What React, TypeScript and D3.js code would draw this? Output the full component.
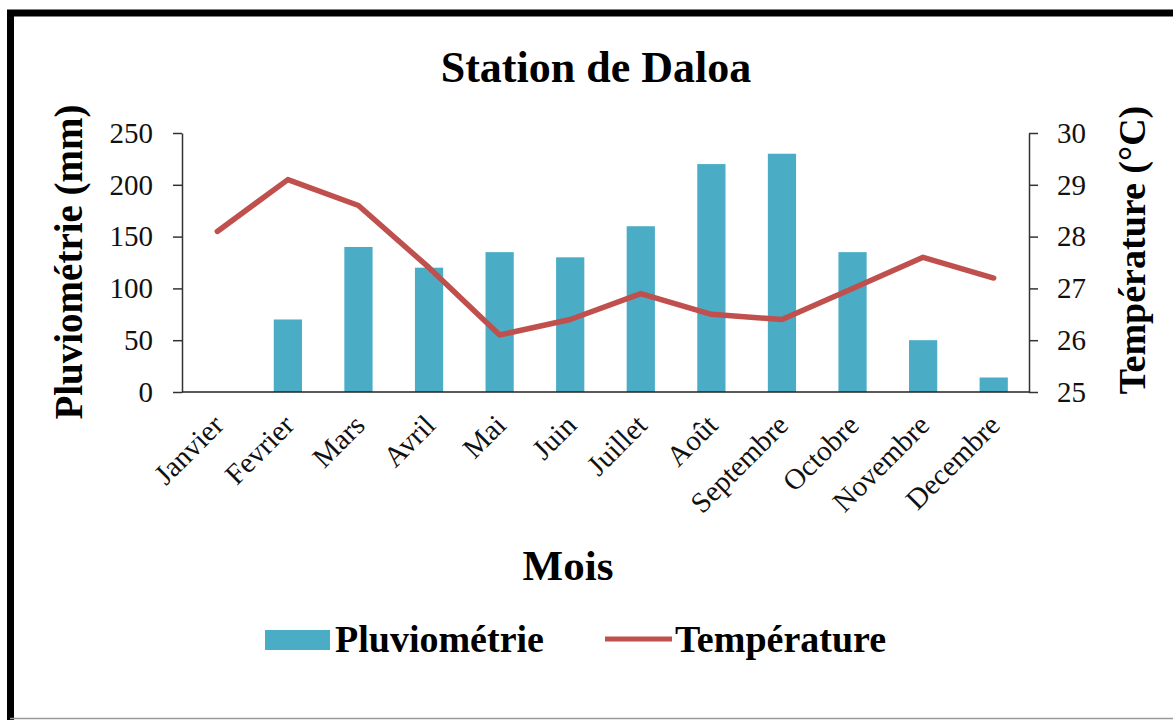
import { useEffect, useRef } from "react";
import * as d3 from "d3";

const months = ["Janvier", "Fevrier", "Mars", "Avril", "Mai", "Juin", "Juillet", "Août", "Septembre", "Octobre", "Novembre", "Decembre"];
const pluvio = [0, 70, 140, 120, 135, 130, 160, 220, 230, 135, 50, 14];
const temperature = [28.1, 29.1, 28.6, 27.4, 26.1, 26.4, 26.9, 26.5, 26.4, 27.0, 27.6, 27.2];
const pluvioTicks = [0, 50, 100, 150, 200, 250];
const tempTicks = [25, 26, 27, 28, 29, 30];

const App = () => {
  const ref = useRef<SVGSVGElement | null>(null);

  useEffect(() => {
    const W = 1173, H = 720;
    const font = "'Liberation Serif', 'Times New Roman', serif";
    const blue = "#4BACC6";
    const red = "#C0504D";
    const left = 182, right = 1029, top = 133, bottom = 392;

    const svg = d3.select(ref.current);
    svg.selectAll("*").remove();
    svg.attr("width", W).attr("height", H).style("font-family", font);

    svg.append("rect").attr("width", W).attr("height", H).attr("fill", "#fff");

    // frame
    svg.append("path")
      .attr("d", `M10.5,${H} V13 H${W}`)
      .attr("fill", "none").attr("stroke", "#000").attr("stroke-width", 7);
    svg.append("line")
      .attr("x1", 10).attr("x2", W).attr("y1", 718.5).attr("y2", 718.5)
      .attr("stroke", "#9a9a9a").attr("stroke-width", 1.5);

    const x = d3.scaleBand<string>().domain(months).range([left, right])
      .paddingInner(0.6).paddingOuter(0.3);
    const yL = d3.scaleLinear().domain([0, 250]).range([bottom, top]);
    const yR = d3.scaleLinear().domain([25, 30]).range([bottom, top]);
    const cx = (m: string) => (x(m) as number) + x.bandwidth() / 2;

    // title
    svg.append("text").attr("x", 596).attr("y", 82)
      .attr("text-anchor", "middle").style("font-size", "44px").style("font-weight", 700)
      .text("Station de Daloa");

    // bars
    svg.append("g").selectAll("rect").data(months).enter().append("rect")
      .attr("x", d => x(d) as number)
      .attr("width", x.bandwidth())
      .attr("y", (d, i) => yL(pluvio[i]))
      .attr("height", (d, i) => bottom - yL(pluvio[i]))
      .attr("fill", blue);

    // left axis
    const gL = svg.append("g").attr("transform", `translate(${left},0)`)
      .call(d3.axisLeft(yL).tickValues(pluvioTicks).tickSize(9).tickPadding(20).tickSizeOuter(0));
    gL.select(".domain").attr("stroke", "#333").attr("stroke-width", 1.5);
    gL.selectAll(".tick line").attr("stroke", "#333").attr("stroke-width", 1.5);
    gL.selectAll(".tick text").style("font-size", "29px").style("font-family", font).attr("fill", "#111");

    // right axis
    const gR = svg.append("g").attr("transform", `translate(${right},0)`)
      .call(d3.axisRight(yR).tickValues(tempTicks).tickFormat(d3.format("d")).tickSize(9).tickPadding(19).tickSizeOuter(0));
    gR.select(".domain").attr("stroke", "#333").attr("stroke-width", 1.5);
    gR.selectAll(".tick line").attr("stroke", "#333").attr("stroke-width", 1.5);
    gR.selectAll(".tick text").style("font-size", "29px").style("font-family", font).attr("fill", "#111");

    // x axis line
    svg.append("line").attr("x1", left).attr("x2", right).attr("y1", bottom).attr("y2", bottom)
      .attr("stroke", "#222").attr("stroke-width", 1.5);

    // month labels
    svg.append("g").selectAll("text").data(months).enter().append("text")
      .attr("transform", d => `translate(${cx(d) + 8},427) rotate(-45)`)
      .attr("text-anchor", "end")
      .style("font-size", "29px")
      .attr("fill", "#111")
      .text(d => d);

    // temperature line
    const line = d3.line<number>()
      .x((d, i) => cx(months[i]))
      .y(d => yR(d));
    svg.append("path").datum(temperature)
      .attr("d", line)
      .attr("fill", "none").attr("stroke", red).attr("stroke-width", 5.5)
      .attr("stroke-linejoin", "round").attr("stroke-linecap", "round");

    // axis titles
    svg.append("text")
      .attr("transform", `translate(82,262) rotate(-90)`)
      .attr("text-anchor", "middle").style("font-size", "39px").style("font-weight", 700)
      .text("Pluviométrie (mm)");
    svg.append("text")
      .attr("transform", `translate(1145,250) rotate(-90)`)
      .attr("text-anchor", "middle").style("font-size", "38px").style("font-weight", 700)
      .text("Température (°C)");
    svg.append("text").attr("x", 568).attr("y", 580)
      .attr("text-anchor", "middle").style("font-size", "43px").style("font-weight", 700)
      .text("Mois");

    // legend
    const lg = svg.append("g");
    lg.append("rect").attr("x", 265).attr("y", 630).attr("width", 65).attr("height", 20).attr("fill", blue);
    lg.append("text").attr("x", 335).attr("y", 652).style("font-size", "38px").style("font-weight", 700)
      .text("Pluviométrie");
    lg.append("line").attr("x1", 605).attr("x2", 672).attr("y1", 639).attr("y2", 639)
      .attr("stroke", red).attr("stroke-width", 5);
    lg.append("text").attr("x", 675).attr("y", 652).style("font-size", "38px").style("font-weight", 700)
      .text("Température");
  }, []);

  return (
    <svg ref={ref} style={{ position: "absolute", left: 0, top: 0, display: "block" }} />
  );
};

export default App;
